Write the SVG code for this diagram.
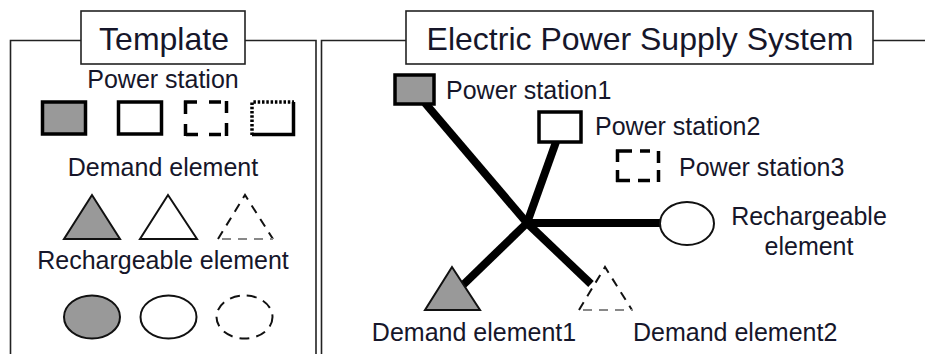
<svg xmlns="http://www.w3.org/2000/svg" width="925" height="354" viewBox="0 0 925 354">
<style>
text{font-family:"Liberation Sans",Arial,sans-serif;fill:#16162a}
.t{font-size:32px}
.l{font-size:25px}
.frame{fill:none;stroke:#222;stroke-width:1.6}
.tbox{fill:#fff;stroke:#222;stroke-width:1.6}
.ps{stroke:#000;stroke-width:3.5}
.seg{stroke:#000;stroke-width:3.5;fill:none}
.dot{stroke-dasharray:2.5 1.8}
.gray{fill:#999}
.white{fill:#fff}
.none{fill:none}
.tri{stroke:#111;stroke-width:2;stroke-linejoin:miter}
.ell{stroke:#111;stroke-width:2}
.dtri{fill:none;stroke:#111;stroke-width:2;stroke-dasharray:9 7}
.dbase{stroke:#888;stroke-width:2;stroke-dasharray:9 7}
.conn{stroke:#000;stroke-width:8;fill:none}
</style>
<rect width="925" height="354" fill="#fff"/>
<g id="template-panel">
<path class="frame" d="M10.5,354 V40.5 H81 M245,40.5 H316 V354"/>
<rect class="tbox" x="81" y="11" width="164" height="53"/>
<text class="t" x="164" y="50" text-anchor="middle">Template</text>
<text class="l" x="163" y="88" text-anchor="middle">Power station</text>
<rect class="ps gray" x="42.5" y="102" width="43" height="32"/>
<rect class="ps white" x="118.5" y="102" width="43" height="32"/>
<path class="seg" d="M184,102 H197 M209,102 H221 M185.5,100.5 V114 M185.5,124 V136 M226.5,101 V113 M226.5,123 V136 M186,134.5 H198 M209,134.5 H221"/>
<path class="seg dot" d="M252,135 V102 H294"/>
<path class="seg" d="M293.5,102 V134.5 H252"/>
<text class="l" x="163" y="176" text-anchor="middle">Demand element</text>
<polygon class="tri gray" points="92,195 64,239 120,239"/>
<polygon class="tri white" points="168,195 140,239 197,239"/>
<path class="dtri" d="M218,239 L245,195 L273,239"/>
<path class="dbase" d="M222,239 H273"/>
<text class="l" x="163" y="269" text-anchor="middle">Rechargeable element</text>
<ellipse class="ell gray" cx="92" cy="317" rx="28" ry="21.5"/>
<ellipse class="ell white" cx="168.5" cy="317" rx="28" ry="21.5"/>
<ellipse class="ell none" cx="244.5" cy="317" rx="28" ry="21.5" style="stroke-dasharray:10 7"/>
</g>
<g id="system-panel">
<path class="frame" d="M321.5,354 V40.5 H406 M873,40.5 H925"/>
<rect class="tbox" x="406" y="11" width="467" height="53"/>
<text class="t" x="640" y="50" text-anchor="middle">Electric Power Supply System</text>
</g>
<g id="connectors">
<line class="conn" x1="425" y1="103" x2="527" y2="223"/>
<line class="conn" x1="556" y1="142" x2="527" y2="223"/>
<line class="conn" x1="527" y1="223" x2="660" y2="223"/>
<line class="conn" x1="527" y1="223" x2="463" y2="285"/>
<line class="conn" x1="527" y1="223" x2="591" y2="284"/>
</g>
<g id="power-station1">
<rect class="ps gray" x="395" y="75" width="39" height="29"/>
<text class="l" x="446" y="99">Power station1</text>
</g>
<g id="power-station2">
<rect class="ps white" x="539" y="112" width="42" height="30"/>
<text class="l" x="595" y="135">Power station2</text>
</g>
<g id="power-station3">
<path class="seg" d="M616,151 H632 M640,151 H650 M617.5,149.5 V162 M617.5,170 V182 M616,180.5 H630 M638,180.5 H650 M658.5,151 V163 M658.5,170 V182"/>
<text class="l" x="679" y="176">Power station3</text>
</g>
<g id="rechargeable-element">
<ellipse class="ell white" cx="687" cy="223.5" rx="27" ry="21.5"/>
<text class="l" x="809" y="225" text-anchor="middle">Rechargeable</text>
<text class="l" x="809" y="255" text-anchor="middle">element</text>
</g>
<g id="demand-element1">
<polygon class="tri gray" points="452,267 425,310 480,310"/>
<text class="l" x="474" y="341" text-anchor="middle">Demand element1</text>
</g>
<g id="demand-element2">
<path class="dtri" d="M579,310 L605,267 L632,310"/>
<path class="dbase" d="M583,310 H633"/>
<text class="l" x="633" y="341">Demand element2</text>
</g>
</svg>
